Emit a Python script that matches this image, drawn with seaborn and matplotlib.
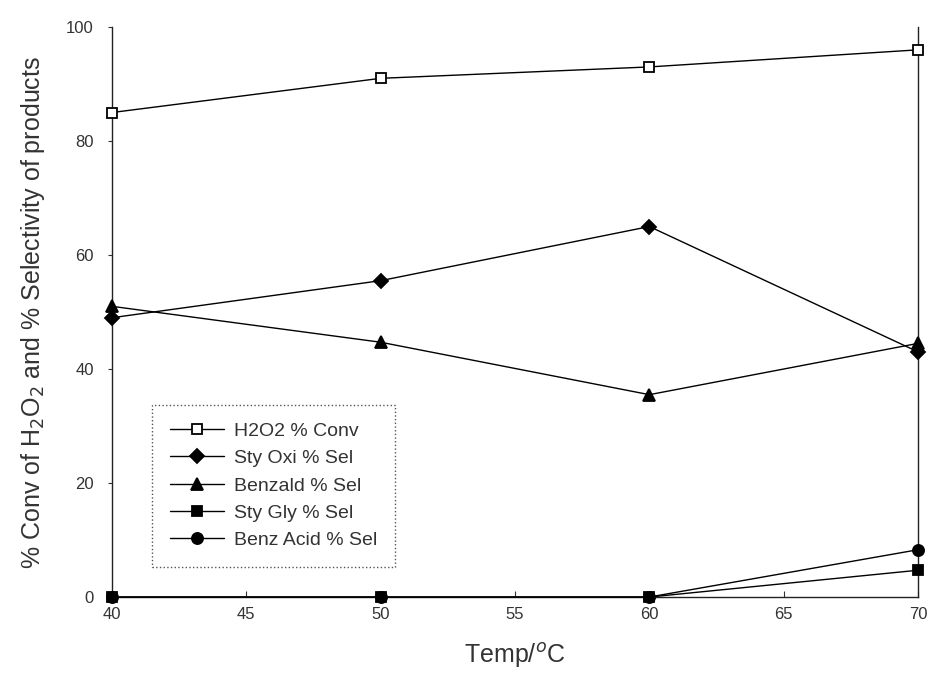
import matplotlib
matplotlib.use("Agg")
import matplotlib.pyplot as plt
import seaborn as sns
import pandas as pd

temps = [40, 50, 60, 70]
h2o2_conv = [85.0, 91.0, 93.0, 96.0]
sty_oxi_sel = [49.0, 55.5, 65.0, 43.0]
benzald_sel = [51.0, 44.7, 35.5, 44.5]
sty_gly_sel = [0.0, 0.0, 0.0, 4.7]
benz_acid_sel = [0.0, 0.0, 0.0, 8.3]

series_names = ["H2O2 % Conv", "Sty Oxi % Sel", "Benzald % Sel",
                "Sty Gly % Sel", "Benz Acid % Sel"]
series_values = [h2o2_conv, sty_oxi_sel, benzald_sel, sty_gly_sel, benz_acid_sel]
markers = ["s", "D", "^", "s", "o"]
face = ["white", "black", "black", "black", "black"]
msizes = [7, 7, 8, 7, 8]

sns.set_style("ticks")
plt.rcParams["font.family"] = ["Liberation Sans", "DejaVu Sans"]

fig = plt.figure(figsize=(9.33, 6.93), dpi=100)
ax = fig.add_axes([0.120, 0.1385, 0.864, 0.8225])

for name, vals, m, fc, ms in zip(series_names, series_values, markers, face, msizes):
    df = pd.DataFrame({"Temp": temps, "Value": vals})
    sns.lineplot(data=df, x="Temp", y="Value", ax=ax, color="black",
                 linewidth=1.0, marker=m, markersize=ms,
                 markerfacecolor=fc, markeredgecolor="black",
                 markeredgewidth=1.3, label=name, clip_on=False, zorder=3)

ax.set_xlim(40, 70)
ax.set_ylim(0, 100)
ax.set_xticks([40, 45, 50, 55, 60, 65, 70])
ax.set_yticks([0, 20, 40, 60, 80, 100])
ax.tick_params(axis="x", direction="in", length=4, labelsize=12, pad=7, color="#333333")
ax.tick_params(axis="y", direction="out", length=3, labelsize=12, pad=10, color="#333333")
for t in ax.get_xticklabels() + ax.get_yticklabels():
    t.set_color("#333333")

ax.spines["top"].set_visible(False)
for s in ["left", "right", "bottom"]:
    ax.spines[s].set_linewidth(1.0)
    ax.spines[s].set_color("#222222")

ax.set_xlabel("Temp/$^o$C", fontsize=18, labelpad=14, color="#333333")
ax.set_ylabel("% Conv of H$_2$O$_2$ and % Selectivity of products",
              fontsize=18, labelpad=14, color="#333333")

leg = ax.legend(loc="lower left", bbox_to_anchor=(0.038, 0.036), fontsize=14,
                handlelength=2.8, handletextpad=0.5, labelspacing=0.5,
                borderpad=0.9, fancybox=False, framealpha=1)
frame = leg.get_frame()
frame.set_edgecolor("#555555")
frame.set_linestyle(":")
frame.set_linewidth(1.0)
for t in leg.get_texts():
    t.set_color("#333333")

fig.savefig("out.png", dpi=100)
